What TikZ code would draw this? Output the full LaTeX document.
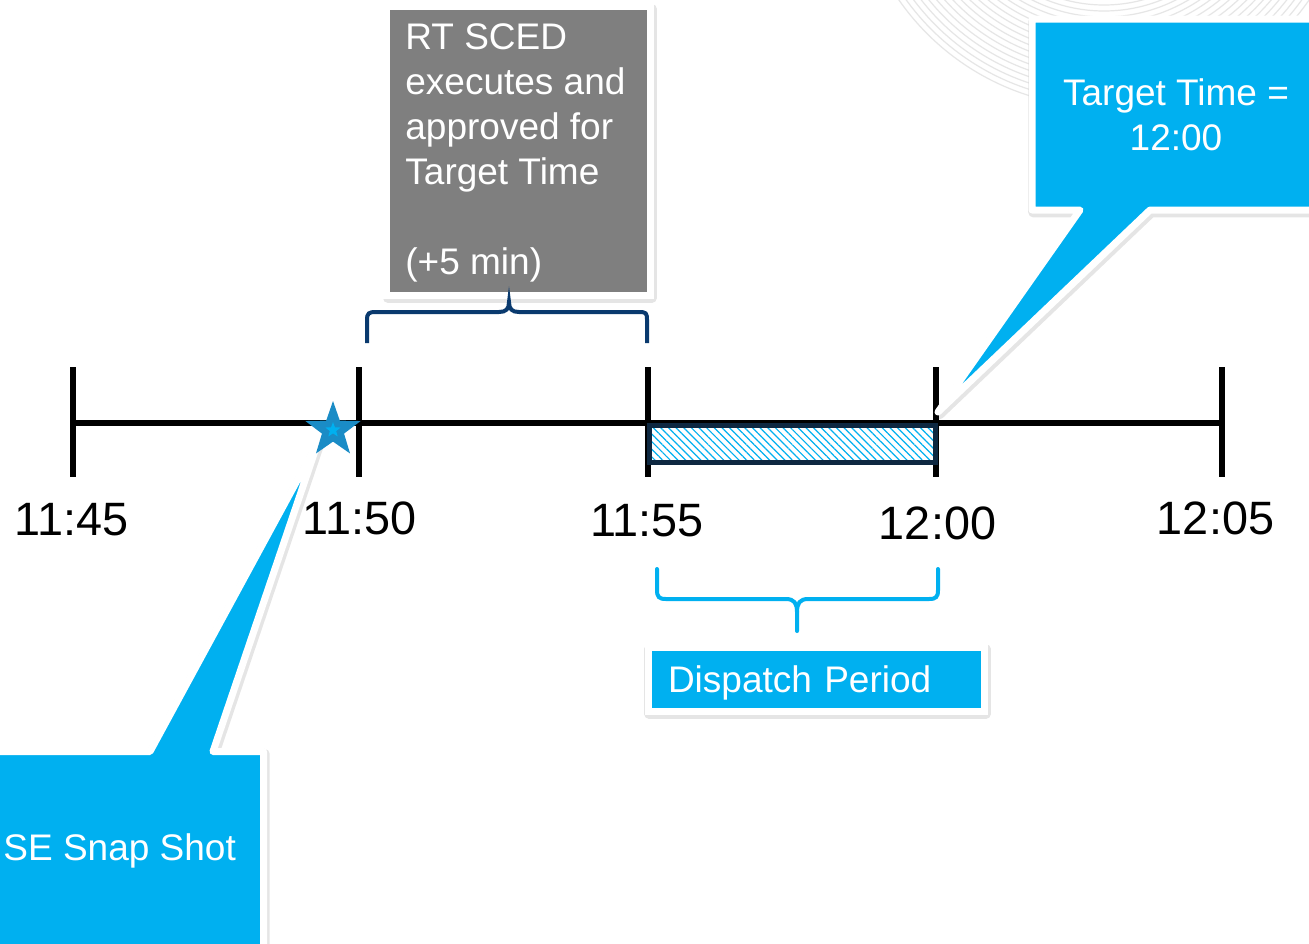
\documentclass[tikz,border=0pt]{standalone}
\usepackage{fontspec}
\setmainfont{Liberation Sans}
\usetikzlibrary{shapes.geometric,patterns.meta}
\definecolor{cyanc}{HTML}{00B0F0}
\definecolor{greyb}{HTML}{7F7F7F}
\definecolor{navybar}{HTML}{0E2841}
\definecolor{navybrace}{HTML}{0A3A6E}
\definecolor{starblue}{HTML}{1A8CC6}
\definecolor{arcgrey}{HTML}{E6E6E6}
\begin{document}
\begin{tikzpicture}[x=0.5pt,y=-0.5pt,
  shadowed/.style={preaction={draw=black, draw opacity=0.10, line width=5pt, line join=round,
      transform canvas={xshift=0.6pt,yshift=-1.2pt}}},
  callout/.style={fill=cyanc, draw=white, line width=3.5pt, line join=round, shadowed},
  framebox/.style={draw=white, line width=3.5pt, shadowed, inner sep=0pt, outer sep=0pt, anchor=north west},
  tl/.style={line width=2.6pt, draw=black},
  timelab/.style={font=\fontsize{23.4pt}{28pt}\selectfont, inner sep=0pt, text=black},
  boxtext/.style={font=\fontsize{18.5pt}{22.5pt}\selectfont, text=white, inner sep=0pt},
  bracepen/.style={line width=2pt}]

\useasboundingbox (0,0) rectangle (1309,943);
\fill[white] (0,0) rectangle (1309,943);

% faint decorative arcs
\begin{scope}
  \clip (0,0) rectangle (1309,943);
  \foreach \r in {142,148,...,252}
    \draw[arcgrey, line width=0.6pt] (1104,-143) circle[radius=\r];
\end{scope}

% timeline
\coordinate (t1) at (73,423);
\coordinate (t2) at (359,423);
\coordinate (t3) at (648,423);
\coordinate (t4) at (936,423);
\coordinate (t5) at (1222,423);
\draw[tl] (t1) -- (t5);
\foreach \t in {t1,t2,t3,t4,t5}
  \draw[tl] (\t) ++(0,-56) -- ++(0,110);

% hatched dispatch interval
\draw[line width=2.5pt, draw=navybar, pattern={Lines[angle=-45,distance=2.7pt,line width=0.6pt]}, pattern color=cyanc]
  (649.5,425.5) rectangle (935.5,462.5);

% time labels
\node[timelab] (l1) at (71.5,520) {11:45};
\node[timelab] (l2) at (359.5,518) {11:50};
\node[timelab] (l3) at (647,521) {11:55};
\node[timelab] (l4) at (937.5,523) {12:00};
\node[timelab] (l5) at (1215.5,518) {12:05};

% RT SCED box
\node[framebox, fill=greyb, minimum width=132pt, minimum height=144.5pt] (scedbox) at (386.5,6.5) {};
\node[boxtext, anchor=north west, align=left] (scedtext) at (405,23.5)
  {RT SCED\\executes and\\approved for\\Target Time\\[22.5pt](+5 min)};

% upper brace
\draw[navybrace, bracepen]
  (367,343) -- (367,320) .. controls (367,313) and (369,312) .. (376,312) -- (499,312)
  .. controls (506,312) and (509,309) .. (509,302)
  .. controls (509,309) and (512,312) .. (519,312) -- (639,312)
  .. controls (646,312) and (647,313) .. (647,320) -- (647,343);

% lower brace
\draw[cyanc, bracepen, line cap=round]
  (657,569) -- (657,590) .. controls (657,597) and (659,599) .. (666,599) -- (786,599)
  .. controls (794,599) and (797,603) .. (797,612) -- (797,631);
\draw[cyanc, bracepen, line cap=round]
  (938,569) -- (938,590) .. controls (938,597) and (936,599) .. (929,599) -- (808,599)
  .. controls (800,599) and (797,603) .. (797,612);

% Dispatch Period box
\node[framebox, fill=cyanc, minimum width=168.25pt, minimum height=32.25pt,
      inner xsep=10pt, text width=148.25pt, text height=15pt, text depth=2.2pt, align=left,
      font=\fontsize{18.5pt}{22.5pt}\selectfont, text=white]
  (dispatch) at (648,647) {Dispatch Period};

% Target Time callout
\path[callout] (1032,19) -- (1325,19) -- (1325,210) -- (1150,210) -- (938,412) -- (1080,210) -- (1032,210) -- cycle;
\node[boxtext, align=center] (targettext) at (1176,115) {Target Time =\\12:00};

% SE Snap Shot callout
\path[callout] (-20,751.5) -- (150,751.5) -- (318,442) -- (213,751.5) -- (263.5,751.5) -- (263.5,965) -- (-20,965) -- cycle;
\node[boxtext, anchor=base west] (setext) at (3,860) {SE Snap Shot};

% star
\node[star, star points=5, star point ratio=2.5, minimum size=29pt, inner sep=0pt, fill=starblue] (star) at (333,430) {};
\node[star, star points=5, star point ratio=2.4, minimum size=8pt, inner sep=0pt, fill=cyanc] (starc) at (star.center) {};
\end{tikzpicture}
\end{document}
